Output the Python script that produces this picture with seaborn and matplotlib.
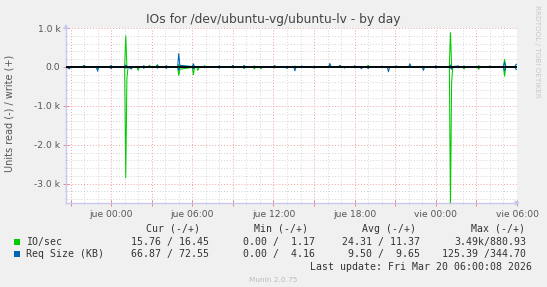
import matplotlib
matplotlib.use("Agg")
import matplotlib.pyplot as plt
import matplotlib.dates as mdates
import matplotlib.ticker as mticker
from matplotlib.patches import Rectangle
import numpy as np
import pandas as pd
import seaborn as sns

# ---------------- data (5-minute samples, only around visible events) ----------------
times = [
    "18 20:40", "18 20:55", "18 21:00",
    "18 21:55", "18 22:00", "18 22:05",
    "18 22:55", "18 23:00", "18 23:05",
    "18 23:55", "19 00:00", "19 00:05",
    "19 01:00", "19 01:05", "19 01:10",
    "19 01:15", "19 01:30", "19 01:35",
    "19 01:55", "19 02:00", "19 02:05",
    "19 02:20", "19 02:25", "19 02:30",
    "19 02:45", "19 02:50", "19 02:55",
    "19 03:20", "19 03:25", "19 03:30",
    "19 04:00", "19 04:05", "19 04:10",
    "19 04:55", "19 05:00", "19 05:05",
    "19 06:00", "19 06:05", "19 06:10",
    "19 06:20", "19 06:25", "19 06:30",
    "19 06:50", "19 06:55", "19 07:00",
    "19 07:55", "19 08:00", "19 08:05",
    "19 08:55", "19 09:00", "19 09:05",
    "19 09:45", "19 09:50", "19 09:55",
    "19 10:30", "19 10:35", "19 10:40",
    "19 11:00", "19 11:05", "19 11:10",
    "19 12:00", "19 12:05", "19 12:10",
    "19 12:55", "19 13:00", "19 13:05",
    "19 13:30", "19 13:35", "19 13:40",
    "19 14:00", "19 14:05", "19 14:10",
    "19 14:55", "19 15:00", "19 15:05",
    "19 16:05", "19 16:10", "19 16:15",
    "19 16:50", "19 16:55", "19 17:00",
    "19 17:10", "19 17:15", "19 17:20",
    "19 17:55", "19 18:00", "19 18:05",
    "19 18:25", "19 18:30", "19 18:35",
    "19 18:55", "19 19:00", "19 19:05",
    "19 19:55", "19 20:00", "19 20:05",
    "19 20:25", "19 20:30", "19 20:35",
    "19 21:00", "19 21:05", "19 21:10",
    "19 22:00", "19 22:05", "19 22:10",
    "19 23:00", "19 23:05", "19 23:10",
    "19 23:55", "20 00:00", "20 00:05",
    "20 01:00", "20 01:05", "20 01:10",
    "20 01:15", "20 01:40", "20 01:45",
    "20 02:00", "20 02:05", "20 02:10",
    "20 03:05", "20 03:10", "20 03:15",
    "20 03:55", "20 04:00", "20 04:05",
    "20 05:00", "20 05:05", "20 05:10",
    "20 05:50", "20 05:55", "20 06:00",
]

io_read = [
    12, 15, 12,   12, 10, 12,   12, 60, 12,   12, 20, 12,
    12, 2850, 300,   12, 20, 12,   12, 90, 12,   12, 20, 12,
    12, 10, 12,   12, 20, 12,   12, 15, 12,   12, 220, 60,
    12, 200, 12,   12, 90, 12,   12, 20, 12,   12, 15, 12,
    12, 20, 12,   12, 40, 12,   12, 50, 12,   12, 50, 12,
    12, 20, 12,   12, 10, 12,   12, 15, 12,   12, 10, 12,
    12, 10, 12,   12, 10, 12,   12, 10, 12,   12, 10, 12,
    12, 10, 12,   12, 10, 12,   12, 10, 12,   12, 10, 12,
    12, 10, 12,   12, 10, 12,   12, 10, 12,   12, 30, 12,
    12, 10, 12,   12, 3490, 400,   12, 10, 12,   12, 50, 12,
    12, 60, 12,   12, 15, 12,   12, 240, 12,   12, 20, 15.76,
]

io_write = [
    10, 12, 10,   10, 35, 10,   10, 10, 10,   10, 15, 10,
    10, 800, 15,   10, 12, 10,   10, 10, 10,   10, 15, 10,
    10, 40, 10,   10, 60, 10,   10, 15, 10,   10, 60, 20,
    10, 20, 10,   10, 15, 10,   10, 30, 10,   10, 12, 10,
    10, 25, 10,   10, 30, 10,   10, 15, 10,   10, 10, 10,
    10, 25, 10,   10, 12, 10,   10, 20, 10,   10, 10, 10,
    10, 12, 10,   10, 40, 10,   10, 35, 10,   10, 10, 10,
    10, 10, 10,   10, 10, 10,   10, 40, 10,   10, 10, 10,
    10, 10, 10,   10, 10, 10,   10, 20, 10,   10, 15, 10,
    10, 12, 10,   10, 881, 15,   10, 12, 10,   10, 20, 10,
    10, 25, 10,   10, 20, 10,   10, 190, 10,   10, 15, 16.45,
]

size_read = [
    5, 50, 5,   5, 10, 5,   5, 110, 5,   5, 45, 5,
    5, 30, 20,   5, 55, 5,   5, 20, 5,   5, 35, 5,
    5, 10, 5,   5, 30, 5,   5, 40, 5,   5, 90, 20,
    5, 50, 5,   5, 10, 5,   5, 10, 5,   5, 35, 5,
    5, 10, 5,   5, 30, 5,   5, 10, 5,   5, 15, 5,
    5, 20, 5,   5, 40, 5,   5, 100, 5,   5, 10, 5,
    5, 30, 5,   5, 15, 5,   5, 10, 5,   5, 30, 5,
    5, 20, 5,   5, 50, 5,   5, 45, 5,   5, 10, 5,
    5, 125, 5,   5, 10, 5,   5, 10, 5,   5, 90, 5,
    5, 30, 5,   5, 20, 60,   5, 20, 5,   5, 15, 5,
    5, 15, 5,   5, 15, 5,   5, 100, 5,   5, 60, 66.87,
]

size_write = [
    8, 10, 8,   8, 40, 8,   8, 10, 8,   8, 40, 8,
    8, 50, 10,   8, 10, 8,   8, 10, 8,   8, 30, 8,
    8, 10, 8,   8, 35, 8,   8, 30, 8,   8, 345, 40,
    8, 80, 8,   8, 10, 8,   8, 10, 8,   8, 30, 8,
    8, 40, 8,   8, 35, 8,   8, 20, 8,   8, 10, 8,
    8, 30, 8,   8, 15, 8,   8, 10, 8,   8, 25, 8,
    8, 20, 8,   8, 90, 8,   8, 40, 8,   8, 10, 8,
    8, 30, 8,   8, 10, 8,   8, 10, 8,   8, 20, 8,
    8, 10, 8,   8, 25, 8,   8, 80, 8,   8, 10, 8,
    8, 30, 8,   8, 50, 10,   8, 25, 8,   8, 15, 8,
    8, 20, 8,   8, 20, 8,   8, 120, 8,   8, 60, 72.55,
]

series_names = ["IO/sec", "Req Size (KB)"]
series_colors = ["#00CC00", "#0066B3"]

x_tick_times = ["2026-03-19 00:00", "2026-03-19 06:00", "2026-03-19 12:00",
                "2026-03-19 18:00", "2026-03-20 00:00", "2026-03-20 06:00"]
x_tick_labels = ["jue 00:00", "jue 06:00", "jue 12:00", "jue 18:00", "vie 00:00", "vie 06:00"]
y_tick_values = [-3000, -2000, -1000, 0, 1000]
y_tick_labels = ["-3.0 k", "-2.0 k", "-1.0 k", "0.0", "1.0 k"]

legend_cur = ["15.76 / 16.45", "66.87 / 72.55"]
legend_min = ["0.00 /  1.17", "0.00 /  4.16"]
legend_avg = ["24.31 / 11.37", " 9.50 /  9.65"]
legend_max = ["3.49k/880.93", "125.39 /344.70"]

title = "IOs for /dev/ubuntu-vg/ubuntu-lv - by day"
ylabel = "Units read (-) / write (+)"
last_update = "Last update: Fri Mar 20 06:00:08 2026"

# ---------------- build table ----------------
t = pd.to_datetime(["2026-03-" + s for s in times])
parts = []
for name, direction, vals, sign in [
    ("IO/sec", "read", io_read, -1),
    ("IO/sec", "write", io_write, 1),
    ("Req Size (KB)", "read", size_read, -1),
    ("Req Size (KB)", "write", size_write, 1),
]:
    parts.append(pd.DataFrame({"time": t, "value": sign * np.asarray(vals, float),
                               "series": name, "dir": direction}))
df = pd.concat(parts, ignore_index=True)

# ---------------- figure ----------------
W, H = 547, 287
fig = plt.figure(figsize=(W / 100, H / 100), dpi=100, facecolor="#F0F0F0")
L, R, T, B = 66, 517, 28, 202.7
ax = fig.add_axes([L / W, 1 - B / H, (R - L) / W, (B - T) / H])
ax.set_facecolor("white")

sns.lineplot(data=df, x="time", y="value", hue="series", units="dir", estimator=None,
             palette=dict(zip(series_names, series_colors)), linewidth=0.75,
             legend=False, ax=ax, zorder=3)
ax.axhline(0, color="black", linewidth=1.3, zorder=4)

ax.set_xlim(pd.Timestamp("2026-03-18 20:40"), pd.Timestamp("2026-03-20 06:00"))
ax.set_ylim(-3490, 1000)
ax.set_xlabel("")
ax.set_ylabel("")

# x ticks
lab_map = {pd.Timestamp(s).strftime("%d %H:%M"): l for s, l in zip(x_tick_times, x_tick_labels)}
ax.xaxis.set_major_locator(mdates.HourLocator(byhour=range(0, 24, 3)))
ax.xaxis.set_minor_locator(mdates.HourLocator())
ax.xaxis.set_major_formatter(mticker.FuncFormatter(
    lambda v, p: lab_map.get(mdates.num2date(v).strftime("%d %H:%M"), "")))
# y ticks
ylab_map = dict(zip(y_tick_values, y_tick_labels))
ax.yaxis.set_major_locator(mticker.MultipleLocator(1000))
ax.yaxis.set_minor_locator(mticker.MultipleLocator(200))
ax.yaxis.set_major_formatter(mticker.FuncFormatter(lambda v, p: ylab_map.get(int(round(v)), "")))

ax.set_axisbelow(True)
ax.grid(which="major", color="#F0A0A0", linestyle=(0, (1, 2)), linewidth=0.7)
ax.grid(which="minor", color="#D4D4D4", linestyle=(0, (1, 2)), linewidth=0.7)

ax.tick_params(which="major", length=4, width=0.7, color="#E08888", direction="inout",
               labelsize=6.6, labelcolor="#555555", pad=2)
ax.tick_params(which="minor", length=2, width=0.6, color="#BBBBBB", direction="inout")
ax.tick_params(axis="x", which="major", pad=3)

for s in ["top", "right"]:
    ax.spines[s].set_visible(False)
for s in ["left", "bottom"]:
    ax.spines[s].set_color("#C8C8F0")
    ax.spines[s].set_linewidth(1.0)

arrow = dict(arrowstyle="-|>", color="#C8C8F0", lw=1.0, mutation_scale=6)
ax.annotate("", xy=(1.013, 0), xytext=(0.99, 0), xycoords="axes fraction",
            arrowprops=arrow, annotation_clip=False)
ax.annotate("", xy=(0, 1.04), xytext=(0, 0.99), xycoords="axes fraction",
            arrowprops=arrow, annotation_clip=False)

# ---------------- texts ----------------
def fx(px):
    return px / W

def fy(py):
    return 1 - py / H

fig.text(fx(273.5), fy(19.5), title, ha="center", va="center", fontsize=8.8, color="#444444")
fig.text(fx(10), fy(113), ylabel, rotation=90, ha="center", va="center", fontsize=7, color="#555555")
fig.text(fx(537), fy(5), "RRDTOOL / TOBI OETIKER", rotation=270, ha="center", va="top",
         fontsize=5.2, color="#C8C8C8")

mono = dict(family="DejaVu Sans Mono", fontsize=7.15, color="#333333")
hy = 228.5
for txt, xr in zip(["Cur (-/+)", "Min (-/+)", "Avg (-/+)", "Max (-/+)"], [200, 308.5, 416.5, 525]):
    fig.text(fx(xr), fy(hy), txt, ha="right", va="center", **mono)

row_y = [241.5, 254]
for i, (name, col) in enumerate(zip(series_names, series_colors)):
    y = row_y[i]
    fig.patches.append(Rectangle((fx(14), fy(y + 3)), 6 / W, 6 / H, transform=fig.transFigure,
                                 facecolor=col, edgecolor="none"))
    fig.text(fx(26), fy(y), name, ha="left", va="center", **mono)
    for vals, xr in zip([legend_cur, legend_min, legend_avg, legend_max], [209, 315, 420.5, 526]):
        fig.text(fx(xr), fy(y), vals[i], ha="right", va="center", **mono)

fig.text(fx(532), fy(266.5), last_update, ha="right", va="center", **mono)
fig.text(fx(273), fy(280), "Munin 2.0.75", ha="center", va="center", fontsize=5.3, color="#BBBBBB")

fig.savefig("out.png", dpi=100, facecolor=fig.get_facecolor())
